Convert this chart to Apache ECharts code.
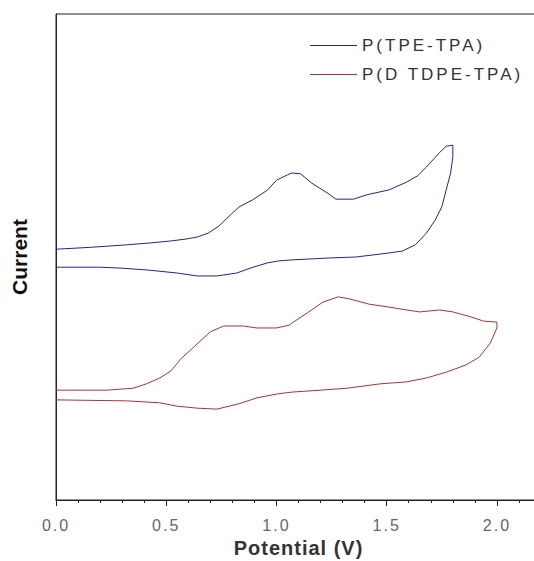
<!DOCTYPE html>
<html>
<head>
<meta charset="utf-8">
<script src="https://cdn.jsdelivr.net/npm/echarts@6/dist/echarts.min.js"></script>
<style>
  html, body { margin: 0; padding: 0; background: #fff; }
  #cv { width: 534px; height: 561px; }
</style>
</head>
<body>
<div id="cv"></div>
<script>
// potential (V) and current (arb. units), forward scan then back
var tpeV = [0, 0.16, 0.32, 0.43, 0.52, 0.59, 0.64, 0.69, 0.74, 0.79, 0.83, 0.89, 0.96, 1.00, 1.05, 1.07, 1.11, 1.16, 1.23, 1.27, 1.35, 1.41, 1.51, 1.59, 1.64, 1.68, 1.74, 1.77, 1.80,
            1.80, 1.79, 1.77, 1.75, 1.72, 1.68, 1.63, 1.57, 1.47, 1.36, 1.24, 1.07, 1.01, 0.96, 0.88, 0.82, 0.73, 0.64, 0.55, 0.42, 0.30, 0.20, 0];
var tpeI = [51.6, 52.0, 52.5, 52.9, 53.3, 53.7, 54.1, 54.9, 56.4, 58.6, 60.3, 61.7, 63.8, 65.8, 66.9, 67.3, 67.1, 65.2, 63.2, 61.9, 61.9, 62.8, 63.8, 65.4, 66.7, 68.5, 71.5, 72.8, 73.0,
            70.6, 67.3, 63.8, 60.3, 57.6, 54.9, 52.5, 51.2, 50.6, 50.0, 49.8, 49.4, 49.2, 48.8, 47.7, 46.7, 46.1, 46.1, 46.7, 47.3, 47.7, 47.9, 47.9];

var dtdpeV = [0, 0.23, 0.35, 0.41, 0.47, 0.52, 0.57, 0.64, 0.70, 0.76, 0.85, 0.91, 1.00, 1.06, 1.07, 1.14, 1.21, 1.28, 1.33, 1.42, 1.51, 1.59, 1.65, 1.74, 1.80, 1.88, 1.94, 2.00,
              2.00, 1.97, 1.92, 1.86, 1.77, 1.68, 1.59, 1.47, 1.32, 1.20, 1.07, 1.00, 0.91, 0.83, 0.73, 0.64, 0.55, 0.47, 0.32, 0];
var dtdpeI = [22.6, 22.6, 23.0, 23.9, 25.1, 26.5, 29.2, 32.1, 34.6, 35.8, 35.8, 35.4, 35.4, 36.0, 36.4, 38.5, 40.7, 41.8, 41.4, 40.3, 39.7, 39.1, 38.7, 39.1, 38.7, 37.7, 36.8, 36.6,
              35.4, 32.3, 29.4, 27.8, 26.3, 25.1, 24.3, 23.9, 23.0, 22.6, 22.2, 21.8, 21.0, 19.8, 18.7, 18.9, 19.3, 20.0, 20.4, 20.6];

var seriesNames = ['P(TPE-TPA)', 'P(D TDPE-TPA)'];
var xTicks = [0, 0.5, 1.0, 1.5, 2.0];

function zip(xs, ys) {
    var out = [];
    for (var i = 0; i < xs.length; i++) out.push([xs[i], ys[i]]);
    return out;
}

var font = 'Liberation Sans, Arial, sans-serif';
var chart = echarts.init(document.getElementById('cv'), null, {renderer: 'svg'});

var option = {
    backgroundColor: '#fff',
    animation: false,
    grid: {
        left: 56,
        width: 485,   // runs past the right edge, like the original crop
        top: 14,
        bottom: 61,
        outerBoundsMode: 'none',
        show: true,
        borderColor: '#222',
        borderWidth: 1
    },
    legend: {
        orient: 'vertical',
        left: 305,
        top: 32,
        icon: 'rect',
        itemWidth: 47,
        itemHeight: 1,
        itemGap: 12,
        data: seriesNames,
        textStyle: {fontFamily: font, fontSize: 17, color: '#333'}
    },
    xAxis: {
        type: 'value',
        min: 0,
        max: 2.2,
        interval: 0.5,
        name: 'Potential (V)',
        nameLocation: 'middle',
        nameGap: 35,
        nameTextStyle: {fontFamily: font, fontSize: 20, fontWeight: 'bold', color: '#333'},
        axisLine: {lineStyle: {color: '#222', width: 1}},
        axisTick: {inside: false, length: 6, lineStyle: {color: '#222'}},
        minorTick: {show: true, splitNumber: 5, length: 3, lineStyle: {color: '#222'}},
        splitLine: {show: false},
        axisLabel: {
            margin: 17,
            showMaxLabel: false,
            fontFamily: font,
            fontSize: 16,
            color: '#666',
            formatter: function (v) {
                return xTicks.indexOf(v) >= 0 ? v.toFixed(1) : '';
            }
        }
    },
    yAxis: {
        type: 'value',
        min: 0,
        max: 100,
        name: 'Current',
        nameLocation: 'middle',
        nameGap: 26,
        nameTextStyle: {fontFamily: font, fontSize: 21, fontWeight: 'bold', color: '#111'},
        axisLine: {show: true, lineStyle: {color: '#222'}},
        axisTick: {show: false},
        axisLabel: {show: false},
        splitLine: {show: false}
    },
    series: [
        {
            name: seriesNames[0],
            type: 'line',
            symbol: 'none',
            lineStyle: {color: '#24248f', width: 1},
            itemStyle: {color: '#24248f'},
            data: zip(tpeV, tpeI)
        },
        {
            name: seriesNames[1],
            type: 'line',
            symbol: 'none',
            lineStyle: {color: '#a83434', width: 1},
            itemStyle: {color: '#a83434'},
            data: zip(dtdpeV, dtdpeI)
        }
    ]
};
chart.setOption(option);

// the original was typeset with wide letter spacing
var spacing = {'P(TPE-TPA)': 3, 'P(D TDPE-TPA)': 3, 'Potential (V)': 1};
document.querySelectorAll('#cv svg text').forEach(function (t) {
    var s = spacing[t.textContent];
    if (s === undefined && /^\d\.\d$/.test(t.textContent)) s = 2;
    if (s) t.setAttribute('letter-spacing', s + 'px');
});
</script>
</body>
</html>
